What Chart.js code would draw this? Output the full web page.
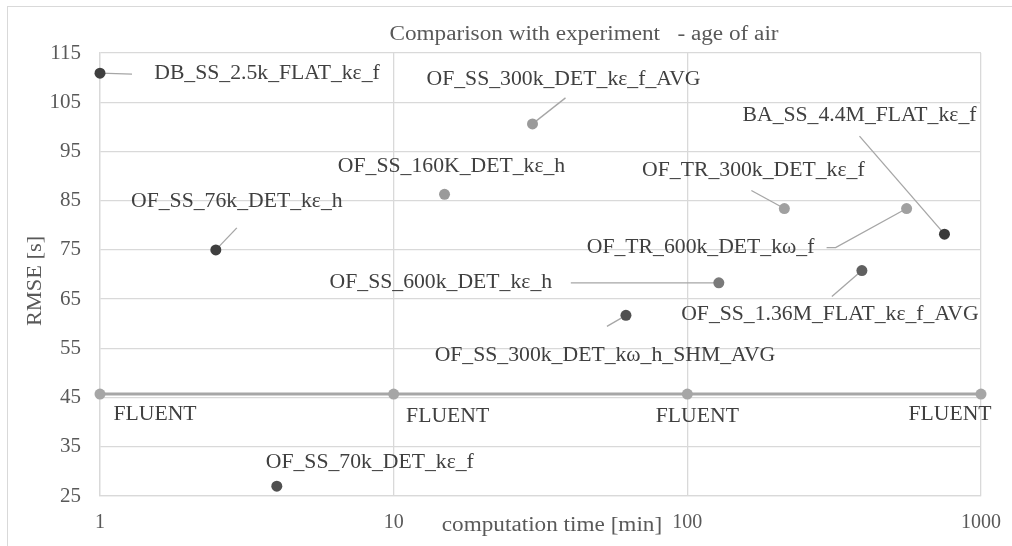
<!DOCTYPE html>
<html><head><meta charset="utf-8">
<script src="https://cdn.jsdelivr.net/npm/chart.js@4"></script>
<style>html,body{margin:0;padding:0;background:#fff}#wrap{width:1012px;height:546px;position:relative}</style>
</head><body><div id="wrap"><canvas id="c" width="1012" height="546"></canvas></div>
<script>
// ---- data ----
const caseNames = [
  'DB_SS_2.5k_FLAT_kε_f',
  'OF_SS_76k_DET_kε_h',
  'OF_SS_160K_DET_kε_h',
  'OF_SS_300k_DET_kε_f_AVG',
  'BA_SS_4.4M_FLAT_kε_f',
  'OF_TR_300k_DET_kε_f',
  'OF_TR_600k_DET_kω_f',
  'OF_SS_600k_DET_kε_h',
  'OF_SS_1.36M_FLAT_kε_f_AVG',
  'OF_SS_300k_DET_kω_h_SHM_AVG',
  'OF_SS_70k_DET_kε_f'
];
const compTime = [1, 2.48, 14.9, 29.7, 751, 214, 558, 128, 393, 61.8, 4.0];
const rmse     = [110.9, 75.0, 86.3, 100.6, 78.2, 83.4, 83.4, 68.3, 70.8, 61.7, 27.0];
const fluentTime = [1, 10, 100, 1000];
const fluentRmse = [45.7, 45.7, 45.7, 45.7];
const fluentName = 'FLUENT';
const xTicks = [1, 10, 100, 1000];
const yTicks = [25, 35, 45, 55, 65, 75, 85, 95, 105, 115];
const chartTitle = 'Comparison with experiment   - age of air';
const xTitle = 'computation time [min]';
const yTitle = 'RMSE [s]';

// ---- styles / label layout (pixel offsets from each point) ----
const pointColors = ['#3f3f3f','#3f3f3f','#9a9a9a','#9a9a9a','#3a3a3a','#a0a0a0','#a0a0a0','#7a7a7a','#606060','#505050','#505050'];
const labelOffsets = [[167,1],[21,-48],[7,-28],[31,-44],[-85,-118],[-31,-38],[-206,39],[-278,0],[-32,44],[-21,40],[93,-23]];
const leaderPaths = [
  [[32,1]], [[21,-22]], null, [[33,-26]], [[-85,-98]], [[-33,-18]],
  [[-71,39],[-80,39]], [[-148,0]], [[-30,26]], [[-19,11]], null
];
const fluentOffsets = [[55,21],[54,23],[10,23],[-31,21]];

const serif = '"Liberation Serif","Times New Roman",serif';

function stretchText(ctx, text, x, y, sx) {
  ctx.save();
  ctx.translate(x, y);
  ctx.scale(sx, 1);
  ctx.fillText(text, 0, 0);
  ctx.restore();
}

const annot = {
  id: 'annot',
  beforeDraw(chart) {
    const ctx = chart.ctx;
    ctx.save();
    ctx.fillStyle = '#fff';
    ctx.fillRect(0,0,chart.width,chart.height);
    ctx.strokeStyle = '#d9d9d9';
    ctx.lineWidth = 1;
    ctx.strokeRect(7.5, 6.5, 1200, 700);
    ctx.restore();
  },
  beforeDatasetsDraw(chart) {
    const ctx = chart.ctx, xs = chart.scales.x, ys = chart.scales.y;
    ctx.save();
    ctx.strokeStyle = '#a6a6a6';
    ctx.lineWidth = 1.3;
    caseNames.forEach((n, i) => {
      const p = leaderPaths[i];
      if (!p) return;
      const px = xs.getPixelForValue(compTime[i]);
      const py = ys.getPixelForValue(rmse[i]);
      ctx.beginPath();
      ctx.moveTo(px, py);
      p.forEach(o => ctx.lineTo(px + o[0], py + o[1]));
      ctx.stroke();
    });
    ctx.restore();
  },
  afterDatasetsDraw(chart) {
    const ctx = chart.ctx, xs = chart.scales.x, ys = chart.scales.y;
    ctx.save();
    ctx.font = '20px ' + serif;
    ctx.fillStyle = '#404040';
    ctx.textAlign = 'center';
    ctx.textBaseline = 'middle';
    caseNames.forEach((n, i) => {
      const px = xs.getPixelForValue(compTime[i]);
      const py = ys.getPixelForValue(rmse[i]);
      stretchText(ctx, n, px + labelOffsets[i][0], py + labelOffsets[i][1], 1.085);
    });
    fluentTime.forEach((t, i) => {
      const px = xs.getPixelForValue(t);
      const py = ys.getPixelForValue(fluentRmse[i]);
      stretchText(ctx, fluentName, px + fluentOffsets[i][0], py + fluentOffsets[i][1], 1.085);
    });
    ctx.fillStyle = '#595959';
    ctx.font = '20px ' + serif;
    stretchText(ctx, chartTitle, 584, 35, 1.16);
    stretchText(ctx, xTitle, 552, 526, 1.16);
    ctx.translate(36, 281);
    ctx.rotate(-Math.PI/2);
    stretchText(ctx, yTitle, 0, 0, 1.12);
    ctx.restore();
  }
};

new Chart(document.getElementById('c'), {
  type: 'scatter',
  data: {
    datasets: [
      {
        label: fluentName,
        data: fluentTime.map((t,i) => ({x: t, y: fluentRmse[i]})),
        showLine: true,
        borderColor: '#a6a6a6',
        backgroundColor: '#a6a6a6',
        borderWidth: 3,
        pointRadius: 5.5,
        pointBorderWidth: 0,
        clip: false
      },
      {
        label: 'cases',
        data: compTime.map((t,i) => ({x: t, y: rmse[i]})),
        backgroundColor: pointColors,
        borderColor: pointColors,
        pointRadius: 5.5,
        pointBorderWidth: 0,
        clip: false
      }
    ]
  },
  options: {
    responsive: false,
    animation: false,
    devicePixelRatio: 1,
    layout: { padding: { top: 53, right: 31, left: 0, bottom: 0 } },
    plugins: { legend: { display: false }, tooltip: { enabled: false }, title: { display: false } },
    scales: {
      x: {
        type: 'logarithmic', min: 1, max: 1000,
        afterBuildTicks: s => { s.ticks = xTicks.map(v => ({value: v})); },
        afterFit: s => { s.height = 50; s.paddingLeft = 0; s.paddingRight = 0; },
        ticks: { callback: v => String(v), color: '#595959', font: { family: serif, size: 20 }, padding: 15, maxRotation: 0, autoSkip: false },
        grid: { color: '#d9d9d9', lineWidth: 1.3, drawTicks: false },
        border: { color: '#d9d9d9', width: 1.3 }
      },
      y: {
        type: 'linear', min: 25, max: 115,
        afterBuildTicks: s => { s.ticks = yTicks.map(v => ({value: v})); },
        afterFit: s => { s.width = 100; s.paddingTop = 0; s.paddingBottom = 0; },
        ticks: { color: '#595959', font: { family: serif, size: 21 }, padding: 19 },
        grid: { color: '#d9d9d9', lineWidth: 1.3, drawTicks: false },
        border: { color: '#d9d9d9', width: 1.3 }
      }
    }
  },
  plugins: [annot]
});
</script></body></html>
